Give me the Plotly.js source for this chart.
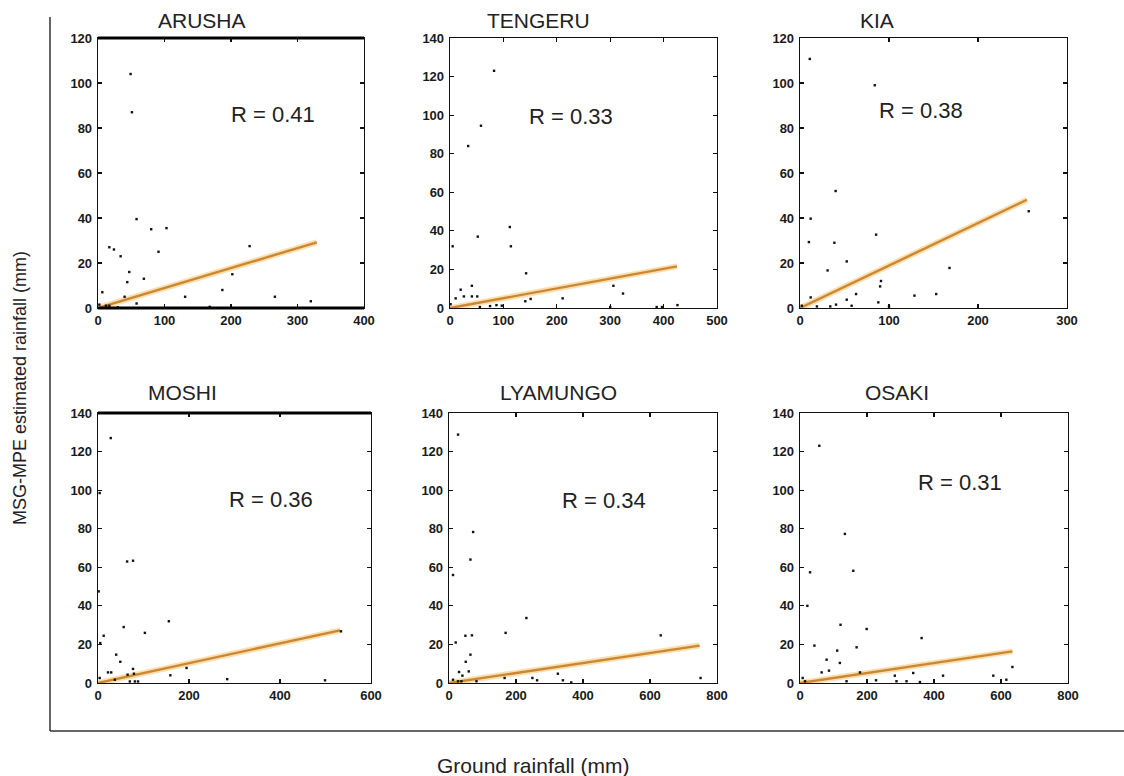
<!DOCTYPE html>
<html>
<head>
<meta charset="utf-8">
<script src="https://cdn.plot.ly/plotly-3.0.1.min.js"></script>
<style>html,body{margin:0;padding:0;background:#fff;}#chart{width:1124px;height:776px;}</style>
</head>
<body>
<div id="chart"></div>
<script>
// ---- Data ----
const stations = ["ARUSHA", "TENGERU", "KIA", "MOSHI", "LYAMUNGO", "OSAKI"];
const rValues = ["0.41", "0.33", "0.38", "0.36", "0.34", "0.31"];
const xMax = [400, 500, 300, 600, 800, 800];
const yMax = [120, 140, 120, 140, 140, 140];
const xTicks = [
  [0, 100, 200, 300, 400],
  [0, 100, 200, 300, 400, 500],
  [0, 100, 200, 300],
  [0, 200, 400, 600],
  [0, 200, 400, 600, 800],
  [0, 200, 400, 600, 800]
];
const yTicks = [
  [0, 20, 40, 60, 80, 100, 120],
  [0, 20, 40, 60, 80, 100, 120, 140],
  [0, 20, 40, 60, 80, 100, 120],
  [0, 20, 40, 60, 80, 100, 120, 140],
  [0, 20, 40, 60, 80, 100, 120, 140],
  [0, 20, 40, 60, 80, 100, 120, 140]
];

const arushaX = [49, 51, 58, 80, 103, 91, 17, 24, 34, 47, 69, 44, 6.5, 40, 131, 187, 202, 228, 266, 320, 58, 2, 12, 17, 30, 168];
const arushaY = [104, 87, 39.5, 35, 35.5, 25, 27, 26, 23, 16, 13, 11.5, 7, 5, 5, 8, 15, 27.5, 5, 3, 2, 1.5, 1, 1, 0.3, 0.5];
const arushaFitX = [0, 329];
const arushaFitY = [0, 29.2];

const tengeruX = [82.5, 58, 34, 112, 52, 114, 5, 142.5, 20, 41, 26, 41, 51, 10.6, 151, 141, 211, 306, 324, 426, 1, 56, 75, 87, 97, 300, 387, 397];
const tengeruY = [123, 94.5, 84, 42, 37, 32, 32, 18, 9.5, 11.5, 6, 6, 6, 5, 4.7, 3.5, 5, 11.5, 7.5, 1.5, 2, 0.5, 1, 1.5, 1.2, 0.5, 0.5, 0.5];
const tengeruFitX = [0, 425];
const tengeruFitY = [0, 21.6];

const kiaX = [11, 84, 40, 12, 85.5, 38.6, 10, 52.5, 31, 168, 257, 91, 90, 63, 153, 128.6, 52.5, 88, 12, 40.5, 58, 19, 34, 100, 2];
const kiaY = [110.7, 99, 52, 39.7, 32.6, 29, 29.3, 20.7, 16.7, 17.8, 43, 12, 9.6, 6.2, 6.2, 5.5, 3.7, 2.5, 4.7, 1.5, 1, 0.7, 0.7, 0.7, 1];
const kiaFitX = [0, 255];
const kiaFitY = [0, 48.1];

const moshiX = [28, 3.7, 64, 77, 1.5, 56.5, 155.7, 103, 12.5, 5, 40, 49, 77, 79, 22, 29, 65, 194.6, 159, 284, 499, 534, 3.7, 70, 81, 88, 37];
const moshiY = [127, 98.5, 63, 63.4, 47.5, 29, 32, 26, 24.5, 20.7, 14.7, 11, 7.3, 4.8, 5.5, 5.5, 4.3, 7.8, 4, 2, 1.4, 26.8, 2.6, 0.8, 0.8, 0.8, 1.7];
const moshiFitX = [0, 532];
const moshiFitY = [0, 27.3];

const lyamungoX = [27, 72, 64, 12, 231, 169, 68.5, 49, 20, 64, 50, 59, 30, 40, 325, 632, 751, 249, 263, 340, 166, 82, 12, 27, 37, 365];
const lyamungoY = [128.8, 78.3, 64, 56, 33.7, 26, 24.7, 24.5, 21, 14.7, 11, 6, 5.7, 3.8, 4.8, 24.7, 2.6, 2.6, 1.4, 1.4, 2.6, 0.9, 1.7, 0.9, 0.9, 0.3];
const lyamungoFitX = [0, 748];
const lyamungoFitY = [0, 19.4];

const osakiX = [57.6, 134, 30, 159, 22, 121, 199, 363, 43, 169, 111, 79.5, 119, 64.6, 86.5, 179, 338, 283, 427, 634, 577, 616, 8, 139, 227, 288, 318, 358, 15];
const osakiY = [123, 77.3, 57.4, 58.2, 40, 30.2, 28, 23.3, 19.4, 18.5, 16.8, 12.1, 10.4, 5.5, 6.4, 5.5, 5.2, 3.8, 3.8, 8.3, 3.8, 1.7, 2.6, 0.9, 1.4, 0.9, 0.9, 0.5, 0.9];
const osakiFitX = [0, 634];
const osakiFitY = [0, 16.4];

const pointsX = [arushaX, tengeruX, kiaX, moshiX, lyamungoX, osakiX];
const pointsY = [arushaY, tengeruY, kiaY, moshiY, lyamungoY, osakiY];
const fitX = [arushaFitX, tengeruFitX, kiaFitX, moshiFitX, lyamungoFitX, osakiFitX];
const fitY = [arushaFitY, tengeruFitY, kiaFitY, moshiFitY, lyamungoFitY, osakiFitY];

// ---- Layout geometry (pixels) ----
const W = 1124, H = 776;
const panelPx = [
  [98, 364, 38, 308], [450, 717, 38, 308], [800, 1067, 38, 308],
  [98, 371, 413, 683], [449, 717, 413, 683], [800, 1068, 413, 683]
];
const titlePos = [[202, 20], [538, 20], [877, 20], [182, 392], [558, 392], [897, 392]];
const rPos = [[273, 114], [571, 116], [921, 111], [271, 499], [604, 500], [960, 482]];

const px = v => v / W;
const py = v => 1 - v / H;

const traces = [];
const layout = {
  width: W, height: H,
  margin: {l: 0, r: 0, t: 0, b: 0},
  paper_bgcolor: '#fff', plot_bgcolor: '#fff',
  showlegend: false,
  annotations: [], shapes: []
};

const tickFont = {family: 'Arial, Liberation Sans, sans-serif', size: 13, color: '#1a1a1a', weight: 'bold'};
const textFont = {family: 'Arial, Liberation Sans, sans-serif', color: '#222'};

for (let i = 0; i < 6; i++) {
  const n = i + 1;
  const xa = n === 1 ? 'x' : 'x' + n;
  const ya = n === 1 ? 'y' : 'y' + n;
  const [l, r, t, b] = panelPx[i];
  const common = {
    showline: true, linecolor: '#111', linewidth: 1.3, mirror: 'ticks',
    ticks: 'inside', ticklen: 4, tickwidth: 1.2, tickcolor: '#111',
    showgrid: false, zeroline: false, tickfont: tickFont, fixedrange: true
  };
  layout['xaxis' + (n === 1 ? '' : n)] = Object.assign({}, common, {
    domain: [px(l), px(r)], range: [0, xMax[i]], tickvals: xTicks[i], anchor: ya
  });
  layout['yaxis' + (n === 1 ? '' : n)] = Object.assign({}, common, {
    domain: [py(b), py(t)], range: [0, yMax[i]], tickvals: yTicks[i], anchor: xa, ticklabelstandoff: 2
  });

  traces.push({
    x: fitX[i], y: fitY[i], xaxis: xa, yaxis: ya, type: 'scatter', mode: 'lines',
    line: {color: 'rgba(248,196,110,0.55)', width: 6}, hoverinfo: 'skip', cliponaxis: false
  });
  traces.push({
    x: fitX[i], y: fitY[i], xaxis: xa, yaxis: ya, type: 'scatter', mode: 'lines',
    line: {color: '#cc8733', width: 2.4}, hoverinfo: 'skip', cliponaxis: false
  });
  traces.push({
    x: pointsX[i], y: pointsY[i], xaxis: xa, yaxis: ya, type: 'scatter', mode: 'markers',
    marker: {symbol: 'square', size: 2.4, color: '#111'}, cliponaxis: false, hoverinfo: 'x+y'
  });

  layout.annotations.push({
    xref: 'paper', yref: 'paper', x: px(titlePos[i][0]), y: py(titlePos[i][1]),
    xanchor: 'center', yanchor: 'middle', showarrow: false, text: stations[i],
    font: Object.assign({}, textFont, {size: 21})
  });
  layout.annotations.push({
    xref: 'paper', yref: 'paper', x: px(rPos[i][0]), y: py(rPos[i][1]),
    xanchor: 'center', yanchor: 'middle', showarrow: false, text: 'R = ' + rValues[i],
    font: Object.assign({}, textFont, {size: 22})
  });
}

// thicker borders seen in the reference
const thick = [[1, 'top'], [1, 'bottom'], [4, 'top']];
thick.forEach(([n, side]) => {
  const xr = (n === 1 ? 'x' : 'x' + n) + ' domain';
  const yr = (n === 1 ? 'y' : 'y' + n) + ' domain';
  const yv = side === 'top' ? 1 : 0;
  layout.shapes.push({type: 'line', xref: xr, yref: yr, x0: 0, x1: 1, y0: yv, y1: yv,
    line: {color: '#000', width: 3}});
});

// outer L frame
layout.shapes.push({type: 'line', xref: 'paper', yref: 'paper', x0: px(50), x1: px(50), y0: py(17), y1: py(731),
  line: {color: '#333', width: 1.5}});
layout.shapes.push({type: 'line', xref: 'paper', yref: 'paper', x0: px(50), x1: px(1124), y0: py(731), y1: py(731),
  line: {color: '#333', width: 1.5}});

// axis titles
layout.annotations.push({
  xref: 'paper', yref: 'paper', x: px(533), y: py(765), xanchor: 'center', yanchor: 'middle',
  showarrow: false, text: 'Ground rainfall (mm)', font: Object.assign({}, textFont, {size: 21})
});
layout.annotations.push({
  xref: 'paper', yref: 'paper', x: px(20), y: py(388), xanchor: 'center', yanchor: 'middle',
  textangle: -90, showarrow: false, text: 'MSG-MPE estimated rainfall (mm)',
  font: Object.assign({}, textFont, {size: 18})
});

Plotly.newPlot('chart', traces, layout, {displayModeBar: false, staticPlot: true});
</script>
</body>
</html>
